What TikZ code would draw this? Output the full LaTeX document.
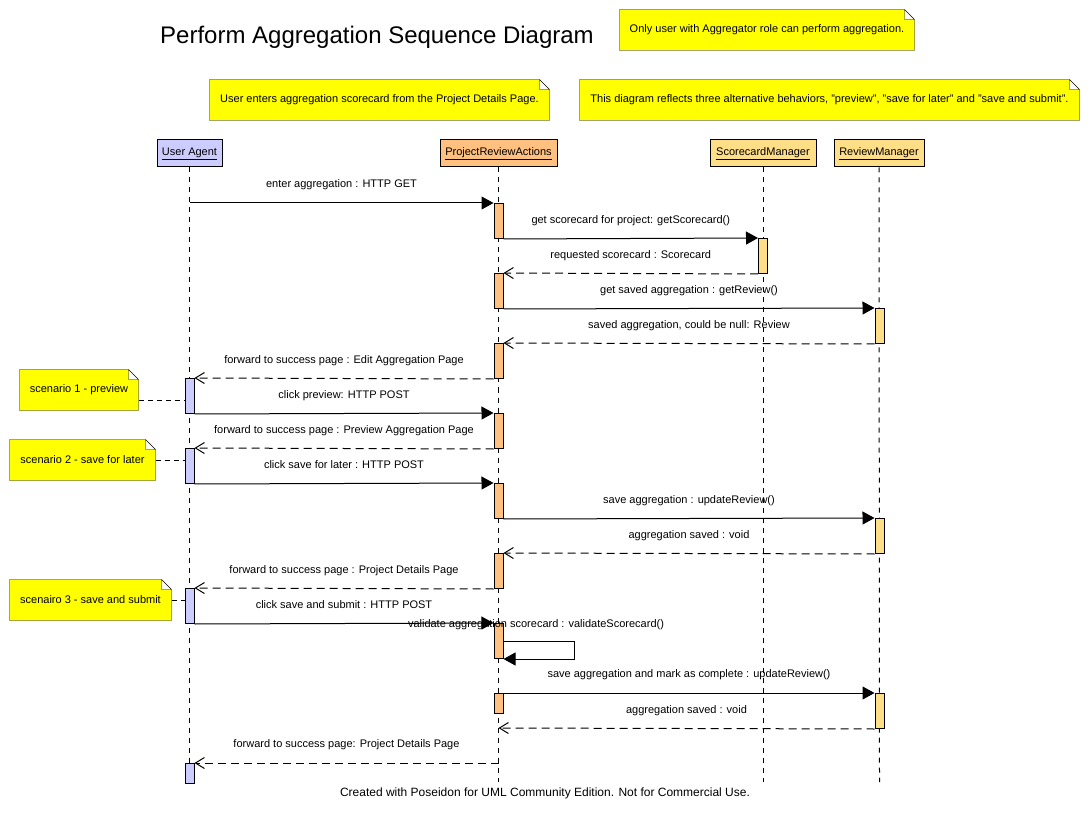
\documentclass[tikz,border=0pt]{standalone}
\usepackage{fontspec}
\setmainfont{Liberation Sans}
\usepackage{xcolor}
\usetikzlibrary{arrows.meta,backgrounds}
\definecolor{uafill}{RGB}{204,204,255}
\definecolor{prafill}{RGB}{255,192,128}
\definecolor{mgrfill}{RGB}{255,222,136}
\definecolor{notefill}{RGB}{255,255,0}

\begin{document}
\begin{tikzpicture}[x=1pt,y=-1pt,line width=1pt,
        every node/.style={font=\fontsize{11}{13}\selectfont},
        head/.style={draw,minimum height=27pt,inner sep=0pt},
        act/.style={draw,anchor=north,minimum width=9pt,minimum height=35pt,inner sep=0pt},
        note/.style={minimum height=40pt,inner sep=0pt},
        life/.style={dash pattern=on 5pt off 5pt},
        call/.style={-{Triangle[length=12pt,width=13pt]}},
        reply/.style={dash pattern=on 8pt off 5pt,-{Straight Barb[length=9pt,width=11pt]}},
        link/.style={dash pattern=on 5pt off 4pt},
        msg/.style={midway,above=8.5pt,text height=8pt,text depth=2.7pt}]
            \useasboundingbox (0,0) rectangle (1090,818);
            \node[font=\fontsize{24}{28}\selectfont] (title) at (377,37) {Perform Aggregation Sequence Diagram};
            \node[note,minimum width=294pt] (n1) at (767,30) {Only user with Aggregator role can perform aggregation.};
            \node[note,minimum width=339pt] (n2) at (379.5,100) {User enters aggregation scorecard from the Project Details Page.};
            \node[note,minimum width=499pt] (n3) at (829.5,100) {This diagram reflects three alternative behaviors, "preview", "save for later" and "save and submit".};
            \node[note,minimum width=118pt] (sn1) at (79,390) {scenario 1 - preview};
            \node[note,minimum width=145pt] (sn2) at (82.5,460) {scenario 2 - save for later};
            \node[note,minimum width=161pt] (sn3) at (90.5,600) {scenairo 3 - save and submit};
            \begin{scope}[on background layer]
                \foreach \n in {n1,n2,n3,sn1,sn2,sn3}
                    \filldraw[fill=notefill] (\n.south west) -- (\n.north west) -- ([xshift=-10pt]\n.north east)
                        -- ([yshift=-10pt]\n.north east) -- (\n.south east) -- cycle
                        ([xshift=-10pt]\n.north east) -- ([xshift=-10pt,yshift=-10pt]\n.north east) -- ([yshift=-10pt]\n.north east);
            \end{scope}
            \node[head,fill=uafill,minimum width=65pt] (ua) at (189.5,153.5) {\underline{User Agent}};
            \node[head,fill=prafill,minimum width=117pt] (pra) at (498.5,153.5) {\underline{ProjectReviewActions}};
            \node[head,fill=mgrfill,minimum width=106pt] (sm) at (763,153.5) {\underline{ScorecardManager}};
            \node[head,fill=mgrfill,minimum width=90pt] (rm) at (879,153.5) {\underline{ReviewManager}};
            \coordinate (uaend) at (189.5,782);
            \coordinate (praend) at (498.5,782);
            \coordinate (smend) at (763,782);
            \coordinate (rmend) at (879.5,782);
            \draw[life] (ua) -- (uaend);
            \draw[life] (pra) -- (praend);
            \draw[life] (sm) -- (smend);
            \draw[life] (rm) -- (rmend);
            \foreach \y [count=\i] in {378,448,588}
                \node[act,fill=uafill] (u\i) at (189.5,\y) {};
            \node[act,fill=uafill,minimum height=20pt] (u4) at (189.5,763) {};
            \foreach \y [count=\i] in {203,273,343,413,483,553,623}
                \node[act,fill=prafill] (p\i) at (498.5,\y) {};
            \node[act,fill=prafill,minimum height=20pt] (p8) at (498.5,693) {};
            \node[act,fill=mgrfill] (sc1) at (763,238) {};
            \foreach \y [count=\i] in {308,518,693}
                \node[act,fill=mgrfill] (r\i) at (879.5,\y) {};
            \draw[link] ([yshift=-10pt]sn1.east) -- ([yshift=-10pt]sn1.east -| u1.west);
            \draw[link] (sn2.east) -- (sn2.east -| u2.west);
            \draw[link] (sn3.east) -- (sn3.east -| u3.west);
            \coordinate (c1) at (189.5,203);
            \coordinate (c2) at (498.5,728);
            \coordinate (c3) at (498.5,763);
            \draw[call] (c1) -- (p1.north west) node[msg]{enter aggregation : HTTP GET};
            \draw[call] (p1.south east) -- (sc1.north west) node[msg]{get scorecard for project: getScorecard()};
            \draw[reply] (sc1.south west) -- (p2.north east) node[msg]{requested scorecard : Scorecard};
            \draw[call] (p2.south east) -- (r1.north west) node[msg]{get saved aggregation : getReview()};
            \draw[reply] (r1.south west) -- (p3.north east) node[msg]{saved aggregation, could be null: Review};
            \draw[reply] (p3.south west) -- (u1.north east) node[msg]{forward to success page : Edit Aggregation Page};
            \draw[call] (u1.south east) -- (p4.north west) node[msg]{click preview: HTTP POST};
            \draw[reply] (p4.south west) -- (u2.north east) node[msg]{forward to success page : Preview Aggregation Page};
            \draw[call] (u2.south east) -- (p5.north west) node[msg]{click save for later : HTTP POST};
            \draw[call] (p5.south east) -- (r2.north west) node[msg]{save aggregation : updateReview()};
            \draw[reply] (r2.south west) -- (p6.north east) node[msg]{aggregation saved : void};
            \draw[reply] (p6.south west) -- (u3.north east) node[msg]{forward to success page : Project Details Page};
            \draw[call] (u3.south east) -- (p7.north west) node[msg]{click save and submit : HTTP POST};
            \node[text height=8pt,text depth=2.7pt] (self) at (536,624.5) {validate aggregation scorecard : validateScorecard()};
            \draw[call] (p7.east) -- ++(71,0) |- (p7.south east);
            \draw[call] (p8.north east) -- (r3.north west) node[msg]{save aggregation and mark as complete : updateReview()};
            \draw[reply] (r3.south west) -- (c2) node[msg]{aggregation saved : void};
            \draw[reply] (c3) -- (u4.north east) node[msg]{forward to success page: Project Details Page};
            \node[font=\fontsize{12}{14}\selectfont] (credit) at (545,793) {Created with Poseidon for UML Community Edition. Not for Commercial Use.};
        \end{tikzpicture}
\end{document}
